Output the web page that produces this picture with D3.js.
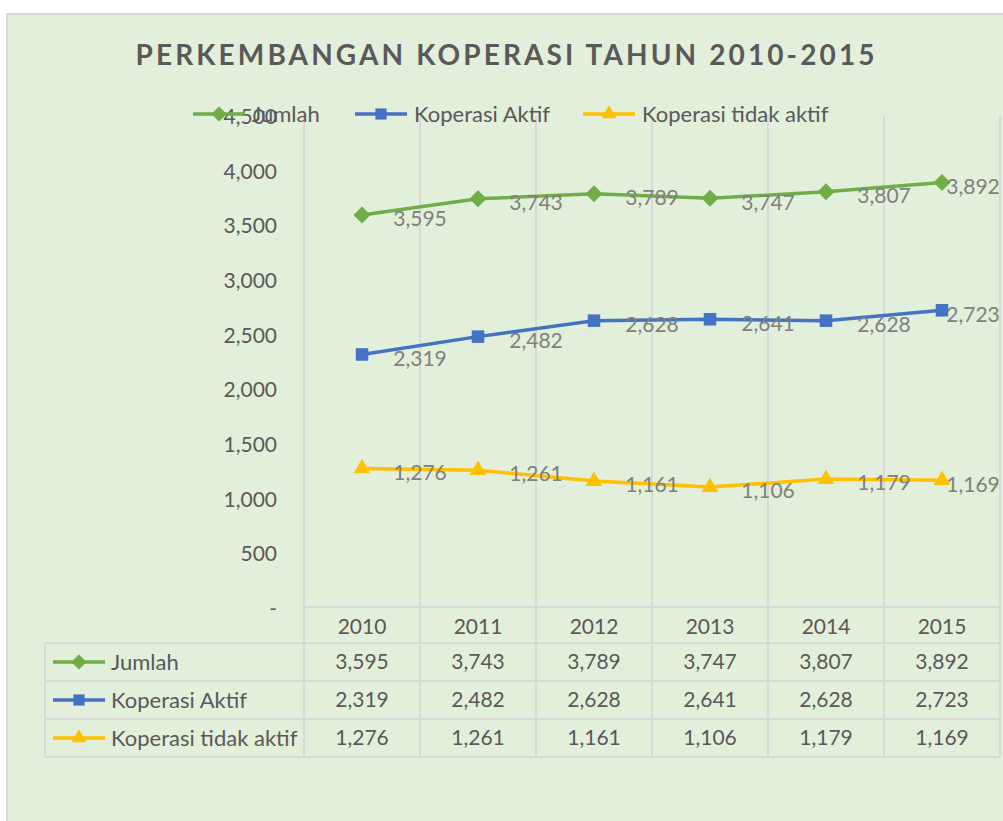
<!DOCTYPE html>
<html>
<head>
<meta charset="utf-8">
<script src="https://cdn.jsdelivr.net/npm/d3@7"></script>
<style>
   body { margin: 0; background: #ffffff; }
   svg { display: block; font-family: "Lato", "Carlito", sans-serif; }
</style>
</head>
<body>
<svg id="chart"></svg>
<script>
// chart data
const years = ["2010", "2011", "2012", "2013", "2014", "2015"];
const seriesNames = ["Jumlah", "Koperasi Aktif", "Koperasi tidak aktif"];
const jumlah = [3595, 3743, 3789, 3747, 3807, 3892];
const koperasiAktif = [2319, 2482, 2628, 2641, 2628, 2723];
const koperasiTidakAktif = [1276, 1261, 1161, 1106, 1179, 1169];
const yTicks = [0, 500, 1000, 1500, 2000, 2500, 3000, 3500, 4000, 4500];
const titleText = "PERKEMBANGAN KOPERASI TAHUN 2010-2015";

window.onload = function() {
   drawChart();
}

function drawChart() {
   let width = 1003;
   let height = 821;
   let plot = {left: 304, right: 1000, top: 116, bottom: 608};
   let table = {left: 45, top: 607, headerH: 36, rowH: 38};

   let colors = ["#70ad47", "#4472c4", "#ffc000"];
   let symbols = [d3.symbolDiamond2, d3.symbolSquare2, d3.symbolTriangle2];
   let symbolSizes = [185, 200, 200];
   let values = [jumlah, koperasiAktif, koperasiTidakAktif];
   let series = seriesNames.map((name, i) => ({name: name, values: values[i], color: colors[i], symbol: symbols[i], size: symbolSizes[i]}));

   let textColor = "#595959";
   let gridColor = "#d9d9d9";

   let svg = d3.select("svg#chart")
      .attr("width", width)
      .attr("height", height)
      .attr("viewBox", [0, 0, width, height]);

   // chart area
   svg.append("rect")
      .attr("x", 7).attr("y", 14)
      .attr("width", width + 10).attr("height", height + 10)
      .attr("fill", "#e2efda")
      .attr("stroke", gridColor)
      .attr("stroke-width", 2);

   let xScale = d3.scaleBand()
      .domain(years)
      .range([plot.left, plot.right]);
   let xc = d => xScale(d) + xScale.bandwidth() / 2;

   let yScale = d3.scaleLinear()
      .domain([0, 4500])
      .range([plot.bottom, plot.top]);

   let tableBottom = table.top + table.headerH + 3 * table.rowH;

   // vertical gridlines at category boundaries, running through the data table
   let bounds = years.map(y => xScale(y)).concat([plot.right]);
   svg.append("g").selectAll("line")
      .data(bounds)
      .join("line")
         .attr("x1", d => d).attr("x2", d => d)
         .attr("y1", plot.top).attr("y2", tableBottom)
         .attr("stroke", gridColor)
         .attr("stroke-width", 2);

   // horizontal table lines
   let rowLines = [
      {x1: plot.left, y: table.top},
      {x1: table.left, y: table.top + table.headerH},
      {x1: table.left, y: table.top + table.headerH + table.rowH},
      {x1: table.left, y: table.top + table.headerH + 2 * table.rowH},
      {x1: table.left, y: tableBottom}
   ];
   svg.append("g").selectAll("line")
      .data(rowLines)
      .join("line")
         .attr("x1", d => d.x1).attr("x2", plot.right)
         .attr("y1", d => d.y).attr("y2", d => d.y)
         .attr("stroke", gridColor)
         .attr("stroke-width", 2);
   svg.append("line")
      .attr("x1", table.left).attr("x2", table.left)
      .attr("y1", table.top + table.headerH).attr("y2", tableBottom)
      .attr("stroke", gridColor)
      .attr("stroke-width", 2);

   // left axis
   let leftAxis = d3.axisLeft(yScale)
      .tickValues(yTicks)
      .tickSize(0)
      .tickPadding(0)
      .tickFormat(d => d === 0 ? "-  " : d3.format(",")(d));
   let axisG = svg.append("g")
      .attr("transform", "translate(277, 0)")
      .call(leftAxis);
   axisG.select(".domain").remove();
   axisG.selectAll("text")
      .attr("fill", textColor)
      .attr("font-size", 21)
      .attr("font-family", "Lato, Carlito, sans-serif")
      .attr("dy", "0.35em");

   // lines and markers
   let line = d3.line()
      .x((d, i) => xc(years[i]))
      .y(d => yScale(d));

   let sg = svg.append("g").selectAll("g")
      .data(series)
      .join("g");
   sg.append("path")
      .attr("d", d => line(d.values))
      .attr("fill", "none")
      .attr("stroke", d => d.color)
      .attr("stroke-width", 3.5)
      .attr("stroke-linejoin", "round");
   sg.each(function(s) {
      d3.select(this).selectAll("path.mark")
         .data(s.values)
         .join("path")
            .classed("mark", true)
            .attr("d", d3.symbol().type(s.symbol).size(s.size))
            .attr("transform", (d, i) => "translate(" + xc(years[i]) + "," + yScale(d) + ")")
            .attr("fill", s.color);
   });

   // data labels (Excel put them between the categories, pushed inside on the right)
   let fmt = d3.format(",");
   sg.each(function(s) {
      d3.select(this).selectAll("text")
         .data(s.values)
         .join("text")
            .attr("x", (d, i) => Math.min(xc(years[i]) + xScale.bandwidth() / 2, width - 30))
            .attr("y", d => yScale(d) + 4)
            .attr("dy", "0.35em")
            .attr("text-anchor", "middle")
            .attr("font-size", 21)
            .attr("fill", "#808080")
            .text(d => fmt(d));
   });

   // legend
   let legendX = [193, 355, 583];
   let legend = svg.append("g").selectAll("g")
      .data(series)
      .join("g")
         .attr("transform", (d, i) => "translate(" + legendX[i] + ",114)");
   drawKey(legend);
   legend.append("text")
      .attr("x", 59)
      .attr("dy", "0.35em")
      .attr("font-size", 22)
      .attr("fill", textColor)
      .text(d => d.name);

   // data table header
   svg.append("g").selectAll("text")
      .data(years)
      .join("text")
         .attr("x", d => xc(d))
         .attr("y", table.top + table.headerH / 2 + 2)
         .attr("dy", "0.35em")
         .attr("text-anchor", "middle")
         .attr("font-size", 21)
         .attr("fill", textColor)
         .text(d => d);

   // data table rows
   let rows = svg.append("g").selectAll("g")
      .data(series)
      .join("g")
         .attr("transform", (d, i) => "translate(0," + (table.top + table.headerH + i * table.rowH + table.rowH / 2) + ")");
   let keys = rows.append("g").attr("transform", "translate(53,0)");
   drawKey(keys);
   rows.append("text")
      .attr("x", 111)
      .attr("dy", "0.35em")
      .attr("font-size", 22)
      .attr("fill", textColor)
      .text(d => d.name);
   rows.each(function(s) {
      d3.select(this).selectAll("text.val")
         .data(s.values)
         .join("text")
            .classed("val", true)
            .attr("x", (d, i) => xc(years[i]))
            .attr("dy", "0.35em")
            .attr("text-anchor", "middle")
            .attr("font-size", 21)
            .attr("fill", textColor)
            .text(d => fmt(d));
   });

   // title
   svg.append("text")
      .attr("x", 505)
      .attr("y", 65)
      .attr("text-anchor", "middle")
      .attr("font-size", 28)
      .attr("font-weight", "bold")
      .attr("fill", textColor)
      .attr("textLength", 739)
      .attr("lengthAdjust", "spacing")
      .text(titleText);

   function drawKey(sel) {
      sel.append("line")
         .attr("x1", 0).attr("x2", 52)
         .attr("stroke", d => d.color)
         .attr("stroke-width", 3.5);
      sel.append("path")
         .attr("d", d => d3.symbol().type(d.symbol).size(d.size * 0.8)())
         .attr("transform", "translate(26,0)")
         .attr("fill", d => d.color);
   }
}
</script>
</body>
</html>
